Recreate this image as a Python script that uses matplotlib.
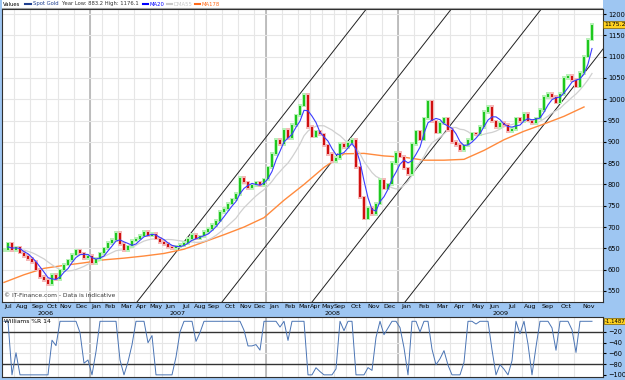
import matplotlib
matplotlib.use("Agg")
import matplotlib.pyplot as plt
import matplotlib.transforms as mtransforms
import numpy as np
import pandas as pd

# weekly closes of spot gold, Jul 2006 - Nov 2009
closes = [645, 662, 645, 652, 640, 632, 625, 618, 600, 583,
          576, 566, 588, 578, 598, 612, 622, 635, 645, 638,
          627, 632, 615, 625, 638, 650, 663, 670, 686, 660,
          645, 655, 668, 673, 680, 688, 680, 684, 673, 665,
          660, 653, 650, 655, 658, 663, 672, 682, 673, 678,
          688, 695, 705, 715, 735, 742, 755, 765, 778, 815,
          805, 792, 798, 805, 798, 812, 840, 872, 905, 895,
          928, 908, 940, 962, 985, 1010, 935, 912, 925, 918,
          892, 872, 855, 862, 895, 888, 898, 905, 840, 770,
          720, 745, 730, 755, 810, 790, 800, 850, 875, 865,
          838, 825, 895, 925, 905, 955, 995, 948, 922, 944,
          955, 928, 900, 893, 881, 892, 905, 920, 918, 935,
          970, 982, 948, 935, 944, 940, 925, 930, 955, 948,
          965, 950, 944, 955, 975, 1005, 1012, 1005, 992, 1012,
          1050, 1055, 1045, 1030, 1062, 1100, 1140, 1175]

# MA178 as drawn (needs history before the chart), one value every 5 bars
ma178_step = 5
ma178 = [570, 588, 603, 610, 616, 623, 627, 632, 638, 648,
         665, 682, 700, 722, 763, 800, 840, 872, 873, 867,
         864, 857, 857, 859, 880, 905, 925, 942, 960, 982]

month_names = ["Jul", "Aug", "Sep", "Oct", "Nov", "Dec",
               "Jan", "Feb", "Mar", "Apr", "May", "Jun", "Jul", "Aug", "Sep", "Oct", "Nov", "Dec",
               "Jan", "Feb", "Mar", "Apr", "May", "Sep", "Oct", "Nov", "Dec",
               "Jan", "Feb", "Mar", "Apr", "May", "Jun", "Jul", "Aug", "Sep", "Oct", "Nov"]
month_first_bar = [0, 3, 7, 11, 14, 18,
                   22, 25, 29, 33, 37, 40, 44, 48, 51, 55, 59, 63,
                   66, 70, 74, 77, 80, 83, 86, 91, 95,
                   99, 103, 108, 112, 117, 121, 125, 130, 134, 139, 143]
years = ["2006", "2007", "2008", "2009"]
year_first_bar = [0, 22, 66, 99]

# parallel trend channel lines: bar where each meets the bottom of the chart
channel_base_bar = [33.25, 54.5, 77, 100.25]
channel_base_price = 524
channel_slope = 12.0

last_price = 1175.2
last_wr = -1.1487

BG = "#9ec6f2"
GRID = "#e6e6e6"
YEARGRID = "#b4b4b4"

n = len(closes)
x = np.arange(n)
close = pd.Series(closes, dtype=float)
opens = close.shift(1).fillna(close.iloc[0])
ma20 = close.rolling(4, min_periods=2).mean()
dma55 = close.rolling(11, min_periods=6).mean()
hh = close.rolling(5, min_periods=1).max()
ll = close.rolling(5, min_periods=1).min()
wr = ((hh - close) / (hh - ll).replace(0, np.nan) * -100).fillna(0)

xmin, xmax = -0.5, 149.75
bounds = [b - 0.5 for b in month_first_bar] + [xmax]
centers = [(bounds[i] + bounds[i + 1]) / 2 for i in range(len(month_names))]

fig = plt.figure(figsize=(6.25, 3.8), dpi=100, facecolor=BG)
W, H = 625, 380
ax = fig.add_axes([2 / W, 1 - 302 / H, 601 / W, 293 / H])
axw = fig.add_axes([2 / W, 1 - 377 / H, 601 / W, 60 / H])
axt = fig.add_axes([2 / W, 1 - 9 / H, 601 / W, 9 / H])

# ---- main price panel
ax.set_facecolor("white")
ax.set_xlim(xmin, xmax)
ax.set_ylim(channel_base_price, 1212)
for b in bounds[1:-1]:
    ax.axvline(b, color=GRID, lw=0.8, zorder=0)
    axw.axvline(b, color=GRID, lw=0.8, zorder=0)
for yb in year_first_bar[1:]:
    ax.axvline(yb - 0.5, color=YEARGRID, lw=1.2, zorder=0)
    axw.axvline(yb - 0.5, color=YEARGRID, lw=1.2, zorder=0)
for lvl in range(550, 1201, 50):
    ax.axhline(lvl, color=GRID, lw=0.8, zorder=0)

for b in channel_base_bar:
    ax.axline((b, channel_base_price), slope=channel_slope, color="#202020", lw=0.7, zorder=1)

ax.plot(np.arange(0, len(ma178) * ma178_step, ma178_step), ma178, color="#ff8a3d", lw=1.0, zorder=2)
ax.plot(x, dma55, color="#d0d0d0", lw=0.9, zorder=2)
ax.plot(x, ma20, color="#3b3bff", lw=0.8, zorder=4)

up = close >= opens
colors = np.where(up, "#1ec81e", "#d01010")
shade = np.where(up, "#b8f0b8", "#f4b8b8")
body = (close - opens).abs().clip(lower=1.5)
low = np.minimum(opens, close)
ax.bar(x, body + 8, bottom=low - 4, width=0.95, color=shade, zorder=2.5)
ax.bar(x, body, bottom=low, width=0.55, color=colors, zorder=3)

ax.yaxis.tick_right()
ax.set_yticks(range(550, 1201, 50))
ax.tick_params(axis="y", labelsize=4.8, length=2, pad=1.5, colors="black")
ax.set_xticks(centers)
ax.set_xticklabels(month_names)
ax.tick_params(axis="x", labelsize=4.6, length=0, pad=1.5)
for s in ax.spines.values():
    s.set_color("#303030")
    s.set_linewidth(0.8)

trans = mtransforms.blended_transform_factory(ax.transData, ax.transAxes)
ybounds = [b - 0.5 for b in year_first_bar] + [xmax]
for i, yr in enumerate(years):
    ax.text((ybounds[i] + ybounds[i + 1]) / 2, -0.038, yr, transform=trans,
            ha="center", va="center", fontsize=4.6)

ax.text(0.004, 0.012, "\u00a9 IT-Finance.com - Data is indicative", transform=ax.transAxes,
        fontsize=4.3, color="#333333", va="bottom")

tr_r = mtransforms.blended_transform_factory(ax.transAxes, ax.transData)
ax.text(1.002, last_price, f"{last_price:.1f}", transform=tr_r, fontsize=4.5, va="center", ha="left",
        bbox=dict(boxstyle="square,pad=0.12", fc="#ffd21f", ec="#806000", lw=0.5))

# ---- legend strip
axt.set_facecolor("white")
axt.set_xticks([])
axt.set_yticks([])
for s in axt.spines.values():
    s.set_visible(False)
axt.axhline(0, color="#a0a0a0", lw=1.5)
axt.set_xlim(0, 601)
axt.set_ylim(0, 9)
fs = 3.8
axt.text(1, 5, "Values", fontsize=fs, va="center")
axt.plot([23, 29], [5, 5], color="#1f3f8f", lw=1.5)
axt.text(31, 5, "Spot Gold", fontsize=fs, va="center", color="#1f3f8f")
axt.text(60, 5, "Year Low: 883.2 High: 1176.1", fontsize=fs, va="center", color="#333333")
axt.plot([141, 146], [5, 5], color="#0000ff", lw=1.5)
axt.text(148, 5, "MA20", fontsize=fs, va="center", color="#0000ff")
axt.plot([165, 170], [5, 5], color="#c8c8c8", lw=1.5)
axt.text(172, 5, "DMA55", fontsize=fs, va="center", color="#c8c8c8")
axt.plot([193, 198], [5, 5], color="#ff6a1a", lw=1.5)
axt.text(200, 5, "MA178", fontsize=fs, va="center", color="#ff6a1a")

# ---- Williams %R panel
axw.set_facecolor("white")
axw.set_xlim(xmin, xmax)
axw.set_ylim(-104, 8)
for lvl in (-40, -60):
    axw.axhline(lvl, color=GRID, lw=0.8, zorder=0)
axw.axhline(-20, color="#333333", lw=1.0, zorder=1)
axw.axhline(-80, color="#333333", lw=1.0, zorder=1)
axw.plot(x, wr, color="#4a74b4", lw=0.7, zorder=2)
axw.set_xticks([])
axw.yaxis.tick_right()
axw.set_yticks([-20, -40, -60, -80, -100])
axw.tick_params(axis="y", labelsize=4.8, length=2, pad=1.5)
for s in axw.spines.values():
    s.set_color("#303030")
    s.set_linewidth(0.8)
axw.text(0.004, 0.97, "Williams %R 14", transform=axw.transAxes, fontsize=4.3, va="top")
tr_w = mtransforms.blended_transform_factory(axw.transAxes, axw.transData)
axw.text(1.003, 0, f"{last_wr:.4f}", transform=tr_w, fontsize=3.9, va="center", ha="left",
         bbox=dict(boxstyle="square,pad=0.1", fc="#ffd21f", ec="#806000", lw=0.5))

fig.savefig("out.png", dpi=100, facecolor=BG)
